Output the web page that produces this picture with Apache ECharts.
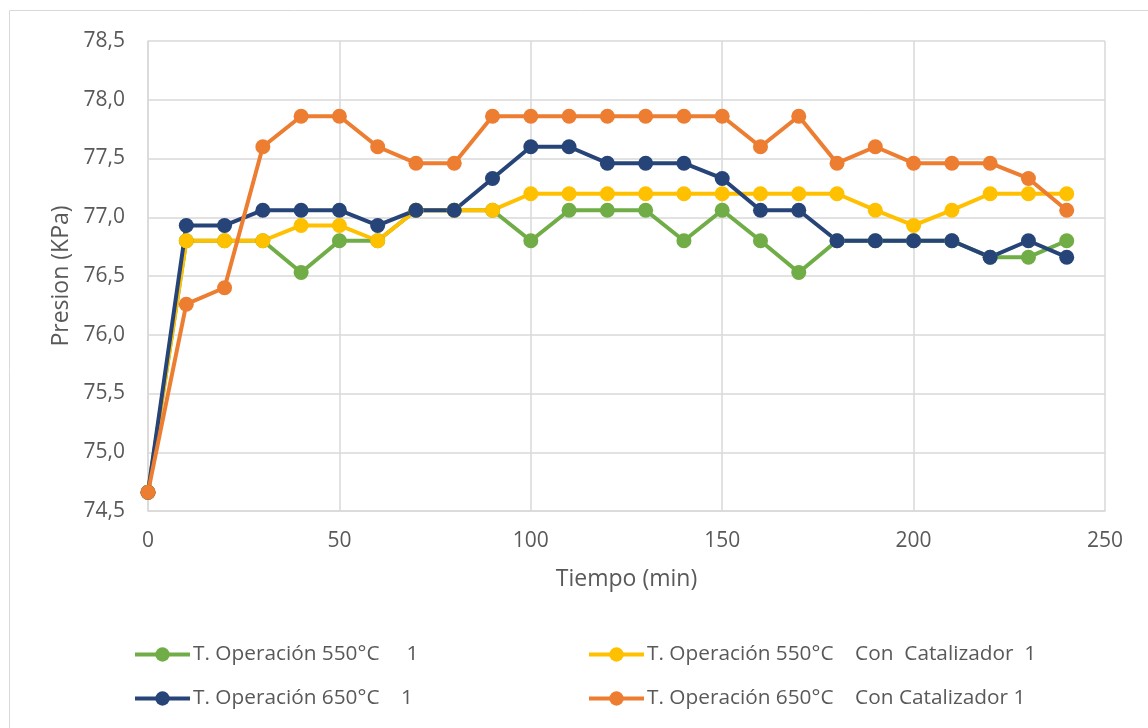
<!DOCTYPE html>
<html><head><meta charset="utf-8">
<script src="https://cdn.jsdelivr.net/npm/echarts@6/dist/echarts.min.js"></script>
<style>html,body{margin:0;padding:0;background:#fff}#c{width:1148px;height:728px}</style>
</head><body><div id="c"></div>
<script>
const times = [0,10,20,30,40,50,60,70,80,90,100,110,120,130,140,150,160,170,180,190,200,210,220,230,240];
const seriesNames = ['T. Operación 550°C     1','T. Operación 550°C    Con  Catalizador  1','T. Operación 650°C    1','T. Operación 650°C    Con Catalizador 1'];
const op550 = [74.66,76.8,76.8,76.8,76.53,76.8,76.8,77.06,77.06,77.06,76.8,77.06,77.06,77.06,76.8,77.06,76.8,76.53,76.8,76.8,76.8,76.8,76.66,76.66,76.8];
const op550cat = [74.66,76.8,76.8,76.8,76.93,76.93,76.8,77.06,77.06,77.06,77.2,77.2,77.2,77.2,77.2,77.2,77.2,77.2,77.2,77.06,76.93,77.06,77.2,77.2,77.2];
const op650 = [74.66,76.93,76.93,77.06,77.06,77.06,76.93,77.06,77.06,77.33,77.6,77.6,77.46,77.46,77.46,77.33,77.06,77.06,76.8,76.8,76.8,76.8,76.66,76.8,76.66];
const op650cat = [74.66,76.26,76.4,77.6,77.86,77.86,77.6,77.46,77.46,77.86,77.86,77.86,77.86,77.86,77.86,77.86,77.6,77.86,77.46,77.6,77.46,77.46,77.46,77.33,77.06];
const colors = ['#70AD47','#FFC000','#264478','#ED7D31'];
const values = [op550, op550cat, op650, op650cat];
const font = "'Open Sans', 'Noto Sans', sans-serif";
const chart = echarts.init(document.getElementById('c'));
const legPos = [[128,639],[582,639],[128,683],[582,683]];
chart.setOption({
  animation:false,
  backgroundColor:'#fff',
  graphic:[{type:'rect',shape:{x:9.5,y:10.5,width:1300,height:900},style:{fill:'none',stroke:'#d9d9d9',lineWidth:1}}],
  grid:{left:148,right:43,top:41,bottom:217},
  xAxis:{type:'value',min:0,max:250,interval:50,
    name:'Tiempo (min)',nameLocation:'middle',nameGap:57,
    nameTextStyle:{color:'#595959',fontSize:23,fontFamily:font},
    axisLine:{show:true,lineStyle:{color:'#d9d9d9',width:1.5}},axisTick:{show:false},
    axisLabel:{color:'#595959',fontSize:21,fontFamily:font,margin:20},
    splitLine:{show:true,lineStyle:{color:'#d9d9d9',width:1.5}}},
  yAxis:{type:'value',min:74.5,max:78.5,interval:0.5,
    name:'Presion (KPa)',nameLocation:'middle',nameGap:75,
    nameTextStyle:{color:'#595959',fontSize:23,fontFamily:font},
    axisLine:{show:true,lineStyle:{color:'#d9d9d9',width:1.5}},axisTick:{show:false},
    axisLabel:{color:'#595959',fontSize:21,fontFamily:font,margin:23,
      formatter:v=>v.toFixed(1).replace('.',',')},
    splitLine:{show:true,lineStyle:{color:'#d9d9d9',width:1.5}}},
  legend: seriesNames.map((n,i)=>({data:[n],left:legPos[i][0],top:legPos[i][1],
    itemWidth:55,itemHeight:18,itemGap:0,lineStyle:{width:4},
    textStyle:{color:'#595959',fontSize:20.8,fontFamily:font,padding:[0,0,0,-2]}})),
  series: seriesNames.map((n,i)=>({name:n,type:'line',
    data:times.map((t,j)=>[t,values[i][j]]),
    color:colors[i],symbol:'circle',symbolSize:15,
    lineStyle:{width:4,color:colors[i]},itemStyle:{color:colors[i]}}))
});
</script></body></html>
